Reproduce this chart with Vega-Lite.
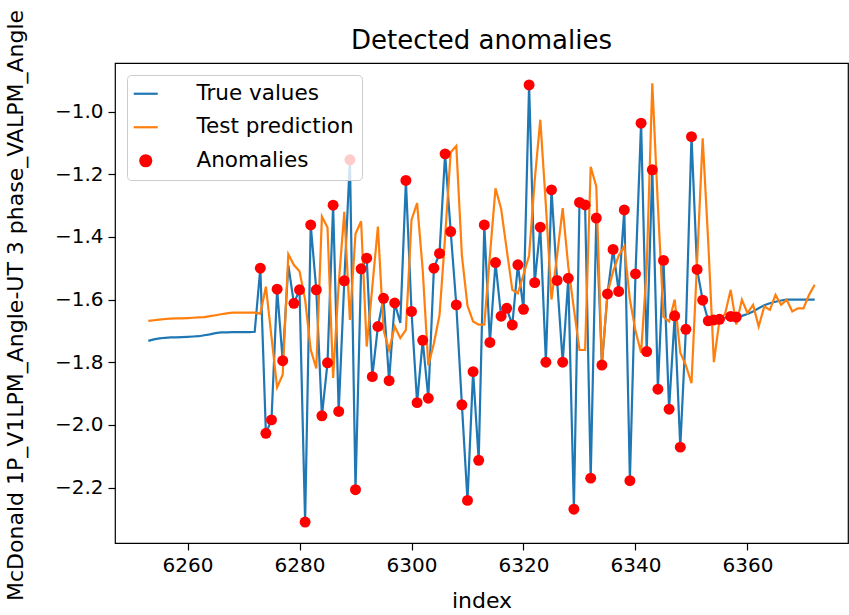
{
  "$schema": "https://vega.github.io/schema/vega-lite/v6.json",
  "width": 733,
  "height": 480,
  "autosize": {"type": "none"},
  "padding": {"left": 115, "top": 63, "right": 1, "bottom": 72},
  "title": {"text": "Detected anomalies", "fontSize": 26, "fontWeight": "normal", "color": "#000000", "anchor": "middle", "frame": "group", "baseline": "alphabetic", "offset": 13, "dy": 79},
  "config": {
    "font": "DejaVu Sans",
    "view": {"stroke": "#000000", "strokeWidth": 1.2},
    "axis": {"grid": false, "domain": false, "tickColor": "#000000", "tickWidth": 1.2, "tickSize": 7, "labelColor": "#000000", "labelFontSize": 20, "labelPadding": 5, "titleColor": "#000000", "titleFontSize": 22, "titleFontWeight": "normal"}
  },
  "data": {"values": [
    {"i":6253,"t":-1.732,"p":-1.668,"a":0},{"i":6254,"t":-1.727,"p":-1.666,"a":0},{"i":6255,"t":-1.724,"p":-1.664,"a":0},{"i":6256,"t":-1.722,"p":-1.662,"a":0},{"i":6257,"t":-1.721,"p":-1.661,"a":0},{"i":6258,"t":-1.721,"p":-1.660,"a":0},{"i":6259,"t":-1.720,"p":-1.660,"a":0},{"i":6260,"t":-1.719,"p":-1.659,"a":0},{"i":6261,"t":-1.718,"p":-1.658,"a":0},{"i":6262,"t":-1.717,"p":-1.657,"a":0},{"i":6263,"t":-1.714,"p":-1.656,"a":0},{"i":6264,"t":-1.711,"p":-1.653,"a":0},{"i":6265,"t":-1.707,"p":-1.650,"a":0},{"i":6266,"t":-1.705,"p":-1.647,"a":0},{"i":6267,"t":-1.705,"p":-1.644,"a":0},{"i":6268,"t":-1.704,"p":-1.642,"a":0},{"i":6269,"t":-1.704,"p":-1.642,"a":0},{"i":6270,"t":-1.704,"p":-1.642,"a":0},{"i":6271,"t":-1.704,"p":-1.642,"a":0},{"i":6272,"t":-1.703,"p":-1.642,"a":0},
    {"i":6273,"t":-1.500,"p":-1.645,"a":1},{"i":6274,"t":-2.027,"p":-1.559,"a":1},{"i":6275,"t":-1.984,"p":-1.72,"a":1},{"i":6276,"t":-1.567,"p":-1.88,"a":1},{"i":6277,"t":-1.795,"p":-1.84,"a":1},{"i":6278,"t":-1.49,"p":-1.455,"a":0},{"i":6279,"t":-1.612,"p":-1.49,"a":1},{"i":6280,"t":-1.569,"p":-1.51,"a":1},{"i":6281,"t":-2.310,"p":-1.60,"a":1},{"i":6282,"t":-1.362,"p":-1.76,"a":1},{"i":6283,"t":-1.569,"p":-1.82,"a":1},{"i":6284,"t":-1.971,"p":-1.335,"a":1},{"i":6285,"t":-1.802,"p":-1.37,"a":1},{"i":6286,"t":-1.299,"p":-1.85,"a":1},{"i":6287,"t":-1.957,"p":-1.55,"a":1},{"i":6288,"t":-1.540,"p":-1.32,"a":1},{"i":6289,"t":-1.154,"p":-1.665,"a":1},{"i":6290,"t":-2.207,"p":-1.39,"a":1},{"i":6291,"t":-1.502,"p":-1.35,"a":1},{"i":6292,"t":-1.468,"p":-1.75,"a":1},{"i":6293,"t":-1.846,"p":-1.56,"a":1},{"i":6294,"t":-1.686,"p":-1.367,"a":1},{"i":6295,"t":-1.596,"p":-1.697,"a":1},{"i":6296,"t":-1.859,"p":-1.761,"a":1},{"i":6297,"t":-1.611,"p":-1.686,"a":1},{"i":6298,"t":-1.675,"p":-1.723,"a":0},{"i":6299,"t":-1.220,"p":-1.697,"a":1},{"i":6300,"t":-1.638,"p":-1.346,"a":1},
    {"i":6301,"t":-1.929,"p":-1.292,"a":1},{"i":6302,"t":-1.730,"p":-1.505,"a":1},{"i":6303,"t":-1.915,"p":-1.81,"a":1},{"i":6304,"t":-1.50,"p":-1.74,"a":1},{"i":6305,"t":-1.453,"p":-1.65,"a":1},{"i":6306,"t":-1.135,"p":-1.40,"a":1},{"i":6307,"t":-1.383,"p":-1.13,"a":1},{"i":6308,"t":-1.617,"p":-1.11,"a":1},{"i":6309,"t":-1.936,"p":-1.46,"a":1},{"i":6310,"t":-2.241,"p":-1.62,"a":1},{"i":6311,"t":-1.830,"p":-1.67,"a":1},{"i":6312,"t":-2.113,"p":-1.68,"a":1},{"i":6313,"t":-1.362,"p":-1.68,"a":1},{"i":6314,"t":-1.737,"p":-1.46,"a":1},{"i":6315,"t":-1.482,"p":-1.245,"a":1},{"i":6316,"t":-1.653,"p":-1.31,"a":1},{"i":6317,"t":-1.628,"p":-1.44,"a":1},{"i":6318,"t":-1.681,"p":-1.569,"a":1},{"i":6319,"t":-1.489,"p":-1.580,"a":1},{"i":6320,"t":-1.631,"p":-1.52,"a":1},{"i":6321,"t":-0.915,"p":-1.46,"a":1},{"i":6322,"t":-1.546,"p":-1.22,"a":1},{"i":6323,"t":-1.369,"p":-1.026,"a":1},{"i":6324,"t":-1.80,"p":-1.30,"a":1},{"i":6325,"t":-1.250,"p":-1.60,"a":1},{"i":6326,"t":-1.539,"p":-1.46,"a":1},{"i":6327,"t":-1.80,"p":-1.308,"a":1},{"i":6328,"t":-1.532,"p":-1.495,"a":1},{"i":6329,"t":-2.269,"p":-1.63,"a":1},{"i":6330,"t":-1.290,"p":-1.761,"a":1},
    {"i":6331,"t":-1.298,"p":-1.761,"a":1},{"i":6332,"t":-2.170,"p":-1.176,"a":1},{"i":6333,"t":-1.340,"p":-1.239,"a":1},{"i":6334,"t":-1.809,"p":-1.805,"a":1},{"i":6335,"t":-1.582,"p":-1.58,"a":1},{"i":6336,"t":-1.440,"p":-1.51,"a":1},{"i":6337,"t":-1.574,"p":-1.46,"a":1},{"i":6338,"t":-1.314,"p":-1.43,"a":1},{"i":6339,"t":-2.178,"p":-1.60,"a":1},{"i":6340,"t":-1.518,"p":-1.70,"a":1},{"i":6341,"t":-1.037,"p":-1.77,"a":1},{"i":6342,"t":-1.766,"p":-1.50,"a":1},{"i":6343,"t":-1.186,"p":-0.91,"a":1},{"i":6344,"t":-1.886,"p":-1.30,"a":1},{"i":6345,"t":-1.475,"p":-1.655,"a":1},{"i":6346,"t":-1.950,"p":-1.67,"a":1},{"i":6347,"t":-1.652,"p":-1.60,"a":1},{"i":6348,"t":-2.071,"p":-1.77,"a":1},{"i":6349,"t":-1.695,"p":-1.81,"a":1},{"i":6350,"t":-1.080,"p":-1.867,"a":1},{"i":6351,"t":-1.504,"p":-1.48,"a":1},{"i":6352,"t":-1.602,"p":-1.085,"a":1},{"i":6353,"t":-1.668,"p":-1.42,"a":1},{"i":6354,"t":-1.665,"p":-1.80,"a":1},{"i":6355,"t":-1.663,"p":-1.665,"a":1},{"i":6356,"t":-1.658,"p":-1.645,"a":0},{"i":6357,"t":-1.654,"p":-1.569,"a":1},{"i":6358,"t":-1.656,"p":-1.68,"a":1},
    {"i":6359,"t":-1.652,"p":-1.601,"a":0},{"i":6360,"t":-1.646,"p":-1.643,"a":0},{"i":6361,"t":-1.638,"p":-1.617,"a":0},{"i":6362,"t":-1.628,"p":-1.686,"a":0},{"i":6363,"t":-1.618,"p":-1.622,"a":0},{"i":6364,"t":-1.612,"p":-1.633,"a":0},{"i":6365,"t":-1.607,"p":-1.585,"a":0},{"i":6366,"t":-1.603,"p":-1.617,"a":0},{"i":6367,"t":-1.600,"p":-1.601,"a":0},{"i":6368,"t":-1.600,"p":-1.638,"a":0},{"i":6369,"t":-1.600,"p":-1.628,"a":0},{"i":6370,"t":-1.600,"p":-1.628,"a":0},{"i":6371,"t":-1.600,"p":-1.585,"a":0},{"i":6372,"t":-1.600,"p":-1.553,"a":0}
  ]},
  "encoding": {
    "x": {"field": "i", "type": "quantitative", "scale": {"domain": [6247.05, 6377.95], "nice": false, "zero": false},
          "axis": {"title": "index", "values": [6260, 6280, 6300, 6320, 6340, 6360], "format": "d", "titleY": 57, "titleBaseline": "middle"}}
  },
  "layer": [
    {
      "mark": {"type": "line", "strokeWidth": 2.2},
      "encoding": {
        "y": {"field": "t", "type": "quantitative", "scale": {"domain": [-2.377, -0.845], "nice": false, "zero": false},
              "axis": {"title": "McDonald 1P_V1LPM_Angle-UT 3 phase_VALPM_Angle", "values": [-2.2, -2.0, -1.8, -1.6, -1.4, -1.2, -1.0], "format": ".1f", "titleX": -100, "titleY": 242, "titleAngle": 270, "titleAlign": "center", "titleBaseline": "middle"}},
        "color": {"datum": "True values", "type": "nominal",
                  "scale": {"domain": ["True values", "Test prediction", "Anomalies"], "range": ["#1f77b4", "#ff7f0e", "#ff0000"]},
                  "legend": {
                    "title": null, "orient": "none", "legendX": 12, "legendY": 12,
                    "fillColor": "rgba(255,255,255,0.8)", "strokeColor": "#cccccc", "cornerRadius": 4, "padding": 8,
                    "labelFontSize": 21.5, "labelColor": "#000000", "symbolSize": 100, "rowPadding": 10.5,
                    "symbolOffset": 0, "labelOffset": 40, "symbolStrokeWidth": 2.2,
                    "encode": {"symbols": {"update": {
                      "shape": {"signal": "datum.value === 'Anomalies' ? 'circle' : 'M-2.4,0H2.4'"},
                      "size": {"signal": "datum.value === 'Anomalies' ? 120 : 100"},
                      "fill": {"signal": "datum.value === 'Anomalies' ? '#ff0000' : 'transparent'"},
                      "stroke": {"signal": "datum.value === 'Anomalies' ? 'transparent' : (datum.value === 'True values' ? '#1f77b4' : '#ff7f0e')"},
                      "strokeWidth": {"value": 2.2},
                      "opacity": {"value": 1}
                    }}}
                  }}
      }
    },
    {
      "mark": {"type": "line", "strokeWidth": 2.2},
      "encoding": {
        "y": {"field": "p", "type": "quantitative"},
        "color": {"datum": "Test prediction", "type": "nominal"}
      }
    },
    {
      "transform": [{"filter": "datum.a == 1"}],
      "mark": {"type": "point", "filled": true, "size": 120, "opacity": 1, "shape": "circle"},
      "encoding": {
        "y": {"field": "t", "type": "quantitative"},
        "color": {"datum": "Anomalies", "type": "nominal"}
      }
    }
  ]
}
